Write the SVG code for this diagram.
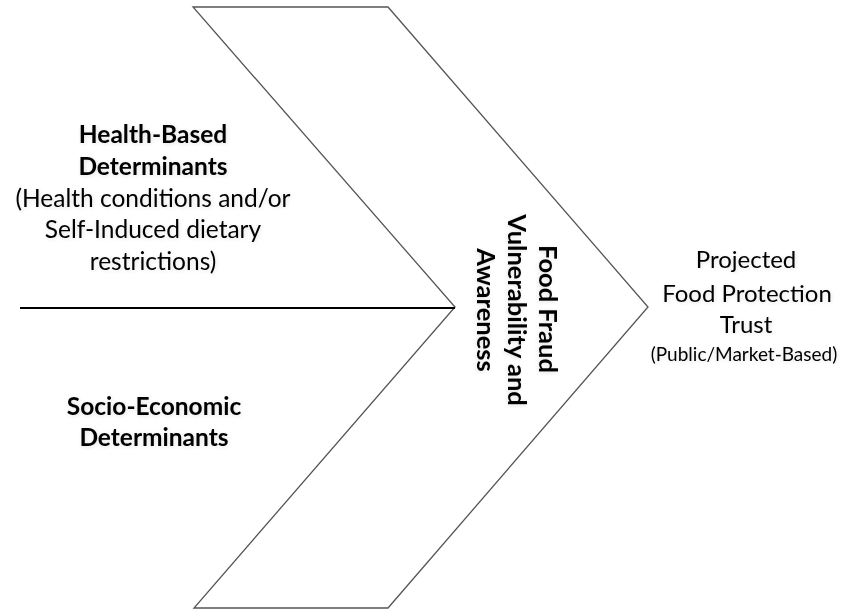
<svg xmlns="http://www.w3.org/2000/svg" width="846" height="610" viewBox="0 0 846 610">
  <defs>
    <filter id="glow" x="-10%" y="-30%" width="120%" height="160%">
      <feGaussianBlur in="SourceAlpha" stdDeviation="2"/>
      <feOffset dx="1" dy="1"/>
      <feComponentTransfer><feFuncA type="linear" slope="0.12"/></feComponentTransfer>
      <feMerge><feMergeNode/><feMergeNode in="SourceGraphic"/></feMerge>
    </filter>
  </defs>
  <style>
    .lbl { font-family: Lato, "Open Sans", "Liberation Sans", sans-serif; fill: #000; text-anchor: middle; filter: url(#glow); }
    .b { font-weight: bold; font-size: 24.5px; }
    .v { font-weight: bold; font-size: 25.5px; }
    .r { font-size: 24.5px; }
    .rt { font-size: 24px; }
    .s { font-size: 19px; }
    .chev { fill: #ffffff; stroke: #555555; stroke-width: 1.3; }
    .axis { stroke: #000000; stroke-width: 2.2; fill: none; }
  </style>
  <rect width="846" height="610" fill="#ffffff"/>
  <g id="chevron">
    <polygon class="chev" points="193,7 388,7 648,307 388,608 194,608 455,307"/>
    <text class="lbl v" transform="translate(539,309) rotate(90)" x="0" y="0">Food Fraud</text>
    <text class="lbl v" transform="translate(508,310) rotate(90)" x="0" y="0">Vulnerability and</text>
    <text class="lbl v" transform="translate(477,310) rotate(90)" x="0" y="0">Awareness</text>
  </g>
  <g id="connectors">
    <line class="axis" x1="20" y1="308" x2="455" y2="308"/>
  </g>
  <g id="health">
    <text class="lbl b" x="153" y="143">Health-Based</text>
    <text class="lbl b" x="153" y="175">Determinants</text>
    <text class="lbl r" x="153" y="207">(Health conditions and/or</text>
    <text class="lbl r" x="153" y="238">Self-Induced dietary</text>
    <text class="lbl r" x="153" y="270">restrictions)</text>
  </g>
  <g id="socio">
    <text class="lbl b" x="154" y="415">Socio-Economic</text>
    <text class="lbl b" x="154" y="446">Determinants</text>
  </g>
  <g id="trust">
    <text class="lbl rt" x="746" y="268">Projected</text>
    <text class="lbl rt" x="747" y="302">Food Protection</text>
    <text class="lbl rt" x="746" y="333">Trust</text>
    <text class="lbl s" x="744" y="361">(Public/Market-Based)</text>
  </g>
</svg>
